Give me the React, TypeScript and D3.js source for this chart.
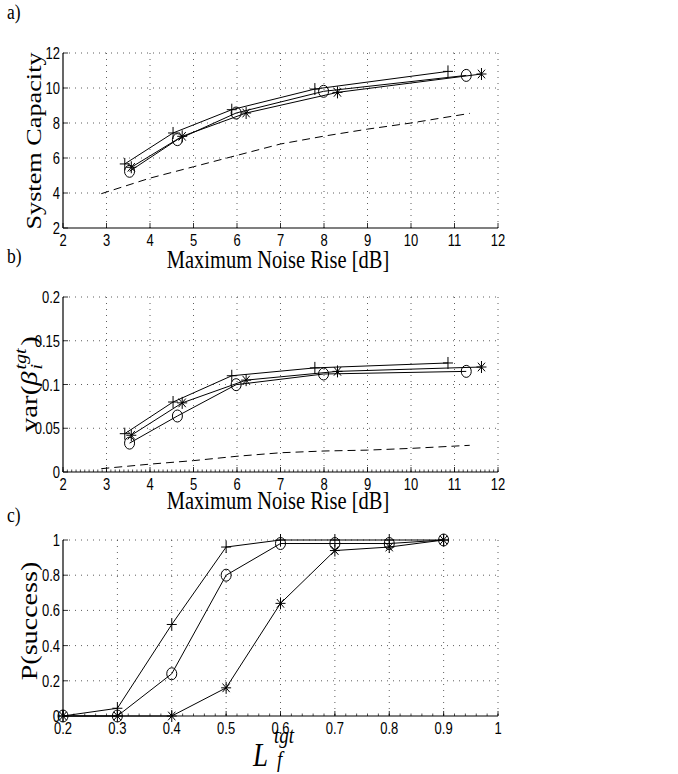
import React, { useEffect, useRef } from 'react';
import * as d3 from 'd3';

// axis ticks
const riseTicks = [2, 3, 4, 5, 6, 7, 8, 9, 10, 11, 12];
const capTicks = [2, 4, 6, 8, 10, 12];
const varTicks = [0, 0.05, 0.1, 0.15, 0.2];
const lfTicks = [0.2, 0.3, 0.4, 0.5, 0.6, 0.7, 0.8, 0.9, 1];
const pTicks = [0, 0.2, 0.4, 0.6, 0.8, 1];

// a) + b) noise rise for each scheme
const plusRise = [3.42, 4.53, 5.88, 7.79, 10.85];
const circleRise = [3.53, 4.63, 5.98, 7.99, 11.27];
const starRise = [3.57, 4.74, 6.21, 8.31, 11.62];
const refRise = [2.88, 4, 5, 6, 7, 8, 9, 10, 11.35];

// a) system capacity
const plusCap = [5.66, 7.43, 8.76, 9.94, 10.95];
const circleCap = [5.24, 7.05, 8.57, 9.81, 10.72];
const starCap = [5.47, 7.24, 8.57, 9.75, 10.8];
const refCap = [3.96, 4.85, 5.5, 6.15, 6.8, 7.25, 7.65, 8.0, 8.55];

// b) variance
const plusVar = [0.0438, 0.080, 0.110, 0.119, 0.1246];
const circleVar = [0.033, 0.064, 0.0998, 0.112, 0.115];
const starVar = [0.042, 0.079, 0.105, 0.115, 0.120];
const refVar = [0.0038, 0.009, 0.013, 0.018, 0.022, 0.024, 0.025, 0.027, 0.0305];

// c) success probability
const lf = [0.2, 0.3, 0.4, 0.5, 0.6, 0.7, 0.8, 0.9];
const plusP = [0, 0.044, 0.52, 0.96, 1, 1, 1, 1];
const circleP = [0, 0, 0.24, 0.8, 0.98, 0.98, 0.98, 1];
const starP = [0, 0, 0, 0.16, 0.64, 0.94, 0.96, 1];

const STRETCH = 1.25;
const SANS = "'Liberation Sans', Arial, sans-serif";
const SERIF = "'Liberation Serif', 'Times New Roman', serif";
const TICK = 13;

export default function App() {
    const ref = useRef<SVGSVGElement>(null);

    useEffect(() => {
        const svg = d3.select(ref.current);
        svg.selectAll('*').remove();
        const left = 63, right = 498;

        const hText = (x: number, y: number, s: string, size: number, opts: any = {}) =>
            svg.append('text')
                .attr('transform', `translate(${x},${y}) scale(1,${STRETCH})`)
                .attr('font-family', opts.family || SERIF)
                .attr('font-size', size)
                .attr('font-style', opts.italic ? 'italic' : 'normal')
                .attr('text-anchor', opts.anchor || 'start')
                .text(s);

        function panel(top: number, bottom: number, xDom: number[], yDom: number[], xTicks: number[], yTicks: number[],
                       minorStep: number, series: { xs: number[]; ys: number[]; m: string }[], ref2: { xs: number[]; ys: number[] } | null) {
            const x = d3.scaleLinear().domain(xDom).range([left, right]);
            const y = d3.scaleLinear().domain(yDom).range([bottom, top]);
            const g = svg.append('g');

            // dotted grid
            xTicks.slice(1).forEach(t => {
                g.append('line').attr('x1', x(t)).attr('x2', x(t)).attr('y1', top).attr('y2', bottom)
                    .attr('stroke', '#333').attr('stroke-width', 0.8).attr('stroke-dasharray', '1,5');
            });
            yTicks.slice(1).forEach(t => {
                g.append('line').attr('x1', left).attr('x2', right).attr('y1', y(t)).attr('y2', y(t))
                    .attr('stroke', '#333').attr('stroke-width', 0.8).attr('stroke-dasharray', '1,5');
            });

            // minor ticks on x axis
            if (minorStep > 0) {
                d3.range(xDom[0], xDom[1] + 1e-9, minorStep).forEach(t => {
                    g.append('line').attr('x1', x(t)).attr('x2', x(t)).attr('y1', bottom).attr('y2', bottom - 2.5)
                        .attr('stroke', '#000').attr('stroke-width', 0.7);
                });
            }
            // major ticks
            xTicks.forEach(t => {
                g.append('line').attr('x1', x(t)).attr('x2', x(t)).attr('y1', bottom).attr('y2', bottom - 5)
                    .attr('stroke', '#000').attr('stroke-width', 0.8);
                hText(x(t), bottom + 17.5, String(t), TICK, { family: SANS, anchor: 'middle' });
            });
            yTicks.forEach(t => {
                g.append('line').attr('x1', left).attr('x2', left + 5).attr('y1', y(t)).attr('y2', y(t))
                    .attr('stroke', '#000').attr('stroke-width', 0.8);
                hText(left - 3, y(t) + 6, String(t), TICK, { family: SANS, anchor: 'end' });
            });
            // axes
            g.append('line').attr('x1', left).attr('x2', right).attr('y1', bottom).attr('y2', bottom).attr('stroke', '#000').attr('stroke-width', 1.2);
            g.append('line').attr('x1', left).attr('x2', left).attr('y1', top).attr('y2', bottom).attr('stroke', '#000').attr('stroke-width', 1.2);

            const line = d3.line<[number, number]>().x(d => x(d[0])).y(d => y(d[1]));
            if (ref2) {
                g.append('path').datum(d3.zip(ref2.xs, ref2.ys) as [number, number][])
                    .attr('d', line).attr('fill', 'none').attr('stroke', '#000').attr('stroke-width', 1)
                    .attr('stroke-dasharray', '8,5');
            }
            series.forEach(s => {
                const pts = d3.zip(s.xs, s.ys) as [number, number][];
                g.append('path').datum(pts).attr('d', line).attr('fill', 'none').attr('stroke', '#000').attr('stroke-width', 1);
                pts.forEach(p => {
                    const px = x(p[0]), py = y(p[1]);
                    const mk = g.append('g').attr('stroke', '#000').attr('stroke-width', 1).attr('fill', 'none');
                    if (s.m === 'o') {
                        mk.append('ellipse').attr('cx', px).attr('cy', py).attr('rx', 5).attr('ry', 6);
                    } else {
                        mk.append('line').attr('x1', px - 5).attr('x2', px + 5).attr('y1', py).attr('y2', py);
                        mk.append('line').attr('x1', px).attr('x2', px).attr('y1', py - 6).attr('y2', py + 6);
                        if (s.m === '*') {
                            mk.append('line').attr('x1', px - 3.6).attr('x2', px + 3.6).attr('y1', py - 4.3).attr('y2', py + 4.3);
                            mk.append('line').attr('x1', px - 3.6).attr('x2', px + 3.6).attr('y1', py + 4.3).attr('y2', py - 4.3);
                        }
                    }
                });
            });
        }

        // a)
        panel(53, 228, [2, 12], [2, 12], riseTicks, capTicks, 0,
            [{ xs: plusRise, ys: plusCap, m: '+' }, { xs: circleRise, ys: circleCap, m: 'o' }, { xs: starRise, ys: starCap, m: '*' }],
            { xs: refRise, ys: refCap });
        // b)
        panel(297, 472, [2, 12], [0, 0.2], riseTicks, varTicks, 0.1,
            [{ xs: plusRise, ys: plusVar, m: '+' }, { xs: circleRise, ys: circleVar, m: 'o' }, { xs: starRise, ys: starVar, m: '*' }],
            { xs: refRise, ys: refVar });
        // c)
        panel(540, 716, [0.2, 1], [0, 1], lfTicks, pTicks, 0.02,
            [{ xs: lf, ys: plusP, m: '+' }, { xs: lf, ys: circleP, m: 'o' }, { xs: lf, ys: starP, m: '*' }],
            null);

        // panel letters
        hText(7, 19, 'a)', 17.5);
        hText(7, 263, 'b)', 17.5);
        hText(7, 522, 'c)', 17.5);

        // x labels
        hText(278, 268, 'Maximum Noise Rise [dB]', 20.5, { anchor: 'middle' });
        hText(278, 509, 'Maximum Noise Rise [dB]', 20.5, { anchor: 'middle' });
        hText(253, 766, 'L', 27, { italic: true });
        hText(274, 743, 'tgt', 19, { italic: true });
        hText(277, 767, 'f', 19, { italic: true });

        // y labels (rotated, stretched along the text direction)
        const vGroup = (x: number, y: number) =>
            svg.append('g').attr('transform', `translate(${x},${y}) rotate(-90) scale(${STRETCH},1)`)
                .attr('font-family', SERIF);
        vGroup(41, 141).append('text').attr('font-size', 21).attr('text-anchor', 'middle').text('System Capacity');
        vGroup(37, 621).append('text').attr('font-size', 22.5).attr('text-anchor', 'middle').text('P(success)');
        const v = vGroup(37, 377);
        v.append('text').attr('x', -44).attr('font-size', 23).text('var(');
        v.append('text').attr('x', -7).attr('font-size', 23).attr('font-style', 'italic').text('β');
        v.append('text').attr('x', 6).attr('y', -11).attr('font-size', 16).attr('font-style', 'italic').text('tgt');
        v.append('text').attr('x', 6).attr('y', 5).attr('font-size', 16).attr('font-style', 'italic').text('i');
        v.append('text').attr('x', 25).attr('font-size', 23).text(')');
    }, []);

    return (
        <svg ref={ref} width={678} height={774} style={{ position: 'absolute', left: 0, top: 0, background: '#fff' }} />
    );
}
